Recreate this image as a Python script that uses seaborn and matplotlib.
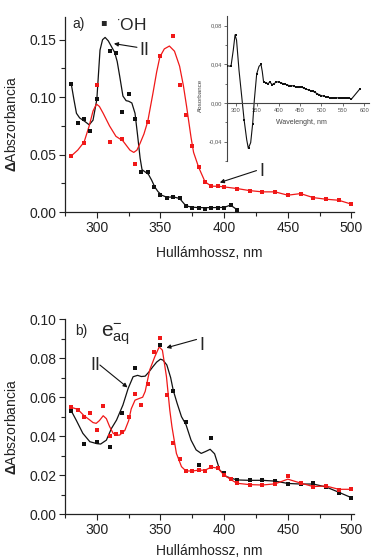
import numpy as np
import pandas as pd
import matplotlib
matplotlib.use('Agg')
import matplotlib.pyplot as plt
import seaborn as sns
from matplotlib.ticker import MultipleLocator, FormatStrFormatter, FuncFormatter

sns.set_style('ticks')
plt.rcParams['font.family'] = ['Liberation Sans', 'DejaVu Sans']
plt.rcParams['mathtext.fontset'] = 'custom'
plt.rcParams['mathtext.rm'] = 'Liberation Sans'
plt.rcParams['mathtext.it'] = 'Liberation Sans:italic'
plt.rcParams['mathtext.bf'] = 'Liberation Sans:bold'

# ---------------- panel a) : OH radical ----------------
a_black_x = [280, 285, 290, 295, 300, 310, 315, 320, 325, 330, 335, 340, 345, 350, 355,
             360, 365, 370, 375, 380, 385, 390, 395, 400, 405, 410]
a_black_y = [0.1115, 0.0778, 0.0813, 0.0702, 0.0987, 0.1405, 0.1385, 0.0874, 0.1028, 0.081,
             0.0348, 0.035, 0.022, 0.015, 0.0125, 0.0136, 0.0122, 0.0058, 0.004, 0.0038,
             0.0029, 0.004, 0.004, 0.004, 0.0064, 0.0023]
a_black_fit_x = [280, 282, 284, 286.5, 290.5, 294, 297, 300, 302.5, 304.5, 306.5, 309, 311.5,
                 314, 316, 318, 320.5, 323, 325, 327.5, 330, 332, 334, 335.5, 338, 340.5, 343,
                 345.5, 348, 351, 355, 360, 365, 369, 372, 375, 380, 390, 400, 405, 410]
a_black_fit_y = [0.111, 0.098, 0.086, 0.082, 0.079, 0.076, 0.080, 0.098, 0.141, 0.150, 0.152,
                 0.149, 0.144, 0.139, 0.131, 0.118, 0.101, 0.097, 0.0965, 0.095, 0.086, 0.067,
                 0.047, 0.037, 0.035, 0.033, 0.028, 0.022, 0.018, 0.0148, 0.013, 0.0133, 0.012,
                 0.0068, 0.005, 0.0044, 0.004, 0.004, 0.0042, 0.0062, 0.0023]

a_red_x = [280, 290, 300, 310, 320, 330, 340, 350, 360, 365, 370, 375, 380, 385, 390, 395,
           400, 410, 420, 430, 440, 450, 460, 470, 480, 490, 500]
a_red_y = [0.0493, 0.060, 0.1103, 0.061, 0.0636, 0.0423, 0.0787, 0.136, 0.1536, 0.1109, 0.0848,
           0.0572, 0.0392, 0.0264, 0.0226, 0.0226, 0.022, 0.0206, 0.0188, 0.0177, 0.0177,
           0.0148, 0.0162, 0.0127, 0.0113, 0.0104, 0.0070]
a_red_fit_x = [280, 285, 290, 294, 297, 299.7, 302, 305, 310, 315, 320.5, 326, 329, 331.5, 334,
               337, 340, 344, 347, 349.5, 353, 357, 361, 365, 368, 370.5, 374, 376, 380, 385,
               390, 395, 400, 410, 420, 430, 440, 450, 460, 470, 480, 490, 500]
a_red_fit_y = [0.049, 0.054, 0.061, 0.075, 0.088, 0.094, 0.092, 0.086, 0.075, 0.066, 0.062,
               0.054, 0.052, 0.054, 0.060, 0.068, 0.079, 0.103, 0.122, 0.135, 0.142, 0.1445,
               0.140, 0.127, 0.110, 0.092, 0.065, 0.052, 0.039, 0.0264, 0.0226, 0.0226, 0.022,
               0.0206, 0.0188, 0.0177, 0.0177, 0.0148, 0.0162, 0.0127, 0.0113, 0.0104, 0.0070]

# inset (difference spectrum)
ins_x = [280, 290, 300, 320, 330, 340, 350, 360, 365, 370, 375, 380, 385, 390, 395, 400, 405,
         410, 415, 420, 425, 430, 435, 440, 445, 450, 455, 460, 465, 470, 475, 480, 485, 490,
         495, 500, 505, 510, 515, 520, 525, 530, 535, 540, 545, 550, 555, 560, 565, 570, 590]
ins_y = [0.0385, 0.0378, 0.0704, -0.0172, -0.047, -0.0213, 0.030, 0.040, 0.022, 0.021, 0.020,
         0.0215, 0.019, 0.020, 0.022, 0.0215, 0.021, 0.020, 0.0195, 0.0185, 0.018, 0.018,
         0.0175, 0.0165, 0.016, 0.016, 0.0162, 0.015, 0.0142, 0.0134, 0.0127, 0.012, 0.011,
         0.0095, 0.0085, 0.0076, 0.007, 0.0065, 0.0058, 0.0054, 0.005, 0.0048, 0.005, 0.0055,
         0.0055, 0.0055, 0.0055, 0.0053, 0.005, 0.004, 0.0147]
ins_fit_x = [280, 289, 294.5, 298.5, 302, 307.7, 314, 319.5, 325.7, 329.5, 335, 339.7, 343.5,
             349, 354.4, 359, 362, 365]
ins_fit_y = [0.0385, 0.0378, 0.055, 0.0704, 0.065, 0.034, 0.007, -0.017, -0.038, -0.047,
             -0.041, -0.021, 0.003, 0.030, 0.0378, 0.040, 0.0326, 0.022]

# ---------------- panel b) : hydrated electron ----------------
b_black_x = [280, 290, 300, 310, 320, 330, 340, 350, 360, 370, 380, 390, 400, 410, 420, 430,
             440, 450, 460, 470, 480, 490, 500]
b_black_y = [0.0529, 0.036, 0.037, 0.0343, 0.0517, 0.0751, 0.0667, 0.087, 0.0631, 0.0473,
             0.0254, 0.0389, 0.0211, 0.0176, 0.0174, 0.0174, 0.0169, 0.0157, 0.0153, 0.016,
             0.0141, 0.0109, 0.0085]
b_black_fit_x = [280, 284, 289, 294.5, 300, 303, 307.5, 311.5, 315.5, 320.5, 324.6, 328.5, 332,
                 335, 338, 341, 344, 347, 350, 352, 355, 358, 360, 363, 366.5, 370, 374, 378,
                 382, 385.5, 389, 392.5, 396.5, 401.8, 410, 420, 430, 440, 450, 460, 470, 480,
                 490, 500]
b_black_fit_y = [0.0529, 0.048, 0.0415, 0.0372, 0.0362, 0.036, 0.038, 0.044, 0.0483, 0.056,
                 0.0645, 0.0705, 0.0712, 0.0706, 0.0708, 0.073, 0.0756, 0.078, 0.0795, 0.079,
                 0.0765, 0.070, 0.0636, 0.057, 0.050, 0.046, 0.038, 0.033, 0.0312, 0.0322,
                 0.0333, 0.031, 0.0227, 0.0193, 0.0176, 0.0174, 0.0174, 0.0170, 0.0158, 0.0155,
                 0.0155, 0.014, 0.0113, 0.0085]

b_red_x = [280, 285, 290, 295, 300, 305, 310, 315, 320, 325, 330, 335, 340, 345, 350, 355, 360,
           365, 370, 375, 380, 385, 390, 395, 400, 405, 410, 420, 430, 440, 450, 460, 470, 480,
           490, 500]
b_red_y = [0.0548, 0.0536, 0.0498, 0.052, 0.0432, 0.0553, 0.0402, 0.0411, 0.042, 0.050, 0.0614,
           0.056, 0.0669, 0.0833, 0.0901, 0.061, 0.0367, 0.0282, 0.0222, 0.0222, 0.0227, 0.0224,
           0.0244, 0.0236, 0.0201, 0.0179, 0.0159, 0.0152, 0.015, 0.0155, 0.0195, 0.0159,
           0.0138, 0.0146, 0.0124, 0.0128]
b_red_fit_x = [280, 285, 290, 294.5, 297, 299.5, 302, 305, 307.5, 310, 312.8, 315.5, 318, 322,
               325, 327, 330, 333.5, 336, 338, 341.5, 345.5, 349, 351.5, 354.7, 357.3, 359,
               362.5, 366.5, 370, 375, 380, 385, 390, 395, 400, 405, 410, 420, 430, 440, 450,
               460, 470, 480, 490, 500]
b_red_fit_y = [0.0548, 0.0538, 0.0505, 0.0483, 0.047, 0.0466, 0.048, 0.0505, 0.049, 0.045,
               0.0415, 0.0405, 0.0406, 0.043, 0.048, 0.054, 0.0585, 0.0594, 0.060, 0.063,
               0.0739, 0.0807, 0.0858, 0.0841, 0.0705, 0.0534, 0.0449, 0.0312, 0.0244, 0.0222,
               0.0222, 0.0226, 0.0226, 0.0242, 0.0236, 0.0201, 0.0179, 0.0159, 0.0152, 0.0150,
               0.0156, 0.018, 0.016, 0.0142, 0.0145, 0.0128, 0.0128]

BLACK = '#111111'
RED = '#f01818'
FS = 10

fig = plt.figure(figsize=(3.71, 5.57), dpi=100)
ax1 = fig.add_axes([0.1752, 0.619, 0.779, 0.351])
ax2 = fig.add_axes([0.1752, 0.0767, 0.779, 0.3503])
axi = fig.add_axes([0.611, 0.711, 0.3825, 0.261])
axi.set_facecolor('none')


def draw(ax, px, py, fx, fy, color, lw=0.9, ms=2.4):
    sns.lineplot(x=fx, y=fy, ax=ax, color=color, lw=lw, estimator=None, sort=False)
    ax.plot(px, py, ls='none', marker='s', ms=ms, mew=0, color=color, zorder=3)


def style_main(ax, ymax, ymaj, ymin, yfmt, xlpad):
    ax.set_xlim(275, 502)
    ax.set_ylim(0, ymax)
    ax.xaxis.set_major_locator(MultipleLocator(50))
    ax.xaxis.set_minor_locator(MultipleLocator(25))
    ax.yaxis.set_major_locator(MultipleLocator(ymaj))
    ax.yaxis.set_minor_locator(MultipleLocator(ymin))
    ax.yaxis.set_major_formatter(FormatStrFormatter(yfmt))
    ax.tick_params(which='major', direction='out', length=4, width=0.8, labelsize=FS, pad=2,
                   colors='#222222', labelcolor='#222222')
    ax.tick_params(which='minor', direction='out', length=3, width=0.8, colors='#222222')
    for s in ['top', 'right']:
        ax.spines[s].set_visible(False)
    for s in ['left', 'bottom']:
        ax.spines[s].set_linewidth(0.9)
        ax.spines[s].set_color('#222222')
    ax.set_xlabel('Hullámhossz, nm', fontsize=FS, labelpad=xlpad, color='#222222')
    ax.set_ylabel(r'$\mathbf{\Delta}$Abszorbancia', fontsize=FS, color='#222222')
    ax.yaxis.set_label_coords(-0.16, 0.45)


# panel a
draw(ax1, a_black_x, a_black_y, a_black_fit_x, a_black_fit_y, BLACK)
draw(ax1, a_red_x, a_red_y, a_red_fit_x, a_red_fit_y, RED)
style_main(ax1, 0.170, 0.05, 0.025, '%.2f', 8)
ax1.text(0.027, 0.962, 'a)', transform=ax1.transAxes, fontsize=10, va='center', ha='left')
ax1.text(0.133, 0.972, '\u25aa', transform=ax1.transAxes, fontsize=7, va='center', ha='center',
         family='DejaVu Sans')
ax1.text(0.176, 0.958, r'$^{\cdot}$OH', transform=ax1.transAxes, fontsize=12.5, va='center',
         ha='left')
ax1.annotate('', xy=(313.4, 0.1466), xytext=(331.5, 0.1434),
             arrowprops=dict(arrowstyle='-|>', color=BLACK, lw=0.8, mutation_scale=6,
                             shrinkA=0, shrinkB=0))
ax1.text(333.5, 0.1405, 'II', fontsize=13, va='center', ha='left')
ax1.annotate('', xy=(396.6, 0.0258), xytext=(425.4, 0.0362),
             arrowprops=dict(arrowstyle='-|>', color=BLACK, lw=0.8, mutation_scale=6,
                             shrinkA=0, shrinkB=0))
ax1.text(427.5, 0.0355, 'I', fontsize=13, va='center', ha='left')

# inset
draw(axi, ins_x, ins_y, ins_fit_x + ins_x[8:], ins_fit_y + ins_y[8:], BLACK, lw=0.8, ms=1.6)
axi.set_xlim(279, 610)
axi.set_ylim(-0.06, 0.0903)
axi.spines['bottom'].set_position(('data', 0))
for s in ['top', 'right']:
    axi.spines[s].set_visible(False)
for s in ['left', 'bottom']:
    axi.spines[s].set_linewidth(0.8)
    axi.spines[s].set_color('#444444')
axi.xaxis.set_major_locator(MultipleLocator(50))
axi.yaxis.set_major_locator(MultipleLocator(0.04))
axi.yaxis.set_minor_locator(MultipleLocator(0.02))
axi.yaxis.set_major_formatter(FuncFormatter(lambda v, p: ('%.2f' % v).replace('.', ',')))
axi.tick_params(which='major', direction='out', length=2, width=0.6, labelsize=4.2, pad=1.5,
                colors='#555555')
axi.tick_params(which='minor', direction='out', length=1.2, width=0.6, colors='#555555')
axi.set_xlabel('Wavelenght, nm', fontsize=5, color='#444444')
axi.xaxis.set_label_coords(0.527, 0.289)
axi.set_ylabel('Absorbance', fontsize=4.5, color='#444444')
axi.yaxis.set_label_coords(-0.167, 0.454)

# panel b
draw(ax2, b_black_x, b_black_y, b_black_fit_x, b_black_fit_y, BLACK)
draw(ax2, b_red_x, b_red_y, b_red_fit_x, b_red_fit_y, RED)
style_main(ax2, 0.10, 0.02, 0.01, '%.2f', 5)
ax2.text(0.035, 0.94, 'b)', transform=ax2.transAxes, fontsize=10, va='center', ha='left')
ax2.text(0.125, 0.925, r'$\mathregular{e_{aq}^{-}}$', transform=ax2.transAxes, fontsize=15,
         va='center', ha='left')
ax2.annotate('', xy=(324.1, 0.065), xytext=(302.4, 0.0765),
             arrowprops=dict(arrowstyle='-|>', color=BLACK, lw=0.8, mutation_scale=6,
                             shrinkA=0, shrinkB=0))
ax2.text(295, 0.0765, 'II', fontsize=13, va='center', ha='left')
ax2.annotate('', xy=(354.6, 0.0853), xytext=(378.3, 0.0896),
             arrowprops=dict(arrowstyle='-|>', color=BLACK, lw=0.8, mutation_scale=6,
                             shrinkA=0, shrinkB=0))
ax2.text(380.5, 0.0867, 'I', fontsize=13, va='center', ha='left')

fig.savefig('out.png', dpi=100)
